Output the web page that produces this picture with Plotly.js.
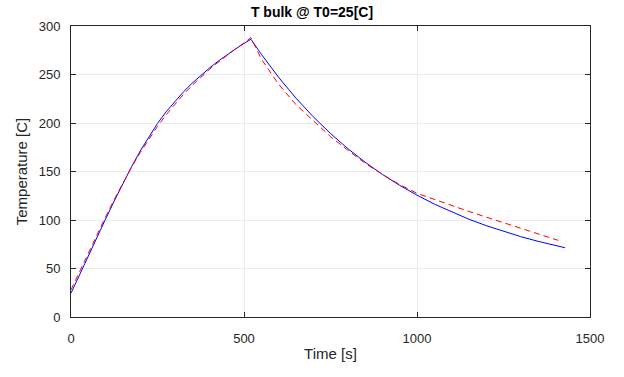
<!DOCTYPE html>
<html><head><meta charset="utf-8">
<script src="https://cdn.plot.ly/plotly-3.0.1.min.js"></script>
<style>html,body{margin:0;padding:0;background:#fff}#c{width:624px;height:377px}</style>
</head><body><div id="c"></div>
<script>
const blueTime = [0,25,50,75,100,125,150,175,200,225,250,275,300,325,350,375,400,425,450,475,500,520,550,600,650,700,750,800,850,900,950,1000,1050,1100,1150,1200,1250,1300,1350,1400,1428];
const blueTemp = [24.5,43.9,63.1,82.2,101.1,119.6,137.6,154.9,171.1,186.1,199.6,211.6,222.4,232.1,241,249.1,256.6,263.6,270.1,276.2,282,286.4,270.9,247.1,225.7,206.5,189.2,173.6,159.6,147,135.7,125.6,116.4,108.2,100.8,94.2,88.2,82.8,78,73.7,71.4];
const redTime = [0,25,50,75,100,125,150,175,200,225,250,275,300,325,350,375,400,425,450,475,500,520,550,600,650,700,750,800,850,900,950,1000,1050,1100,1150,1200,1250,1300,1350,1408];
const redTemp = [28,47.2,66.3,85,103.3,121.2,138.3,154.5,169.5,183.5,196.5,208.5,219.5,229.5,238.7,247.2,255.2,262.6,269.6,276.2,282.5,288,266,240,219,202,186,172,158.5,147,136.5,127.5,121,114.8,108.8,103,97.3,91.6,85.9,79];
const xTicks = [0,500,1000,1500];
const yTicks = [0,50,100,150,200,250,300];

const FONT = 'Liberation Sans, Arial, Helvetica, sans-serif';
const axisBase = {
  showline:true, linecolor:'#262626', linewidth:1, mirror:'ticks',
  ticks:'inside', ticklen:5, tickcolor:'#262626',
  showgrid:true, gridcolor:'#ebebeb', gridwidth:1, zeroline:false,
  tickfont:{family:FONT, size:13, color:'#262626'}
};
const data = [
  {x:blueTime, y:blueTemp, type:'scatter', mode:'lines', line:{color:'#0000ff', width:1}, showlegend:false},
  {x:redTime, y:redTemp, type:'scatter', mode:'lines', line:{color:'#ff0000', width:1, dash:'6px,4px'}, showlegend:false}
];
const layout = {
  width:624, height:377,
  margin:{l:71, r:34, t:26, b:60},
  paper_bgcolor:'#fff', plot_bgcolor:'#fff',
  title:{text:'<b>T bulk @ T0=25[C]</b>', x:0.5, xanchor:'center', y:0.968, yanchor:'middle',
    font:{family:FONT, size:14, color:'#000'}},
  xaxis:Object.assign({}, axisBase, {range:[0,1500], tickvals:xTicks, ticktext:xTicks.map(String),
    ticklabelstandoff:9,
    title:{text:'Time [s]', standoff:3, font:{family:FONT, size:15, color:'#262626'}}}),
  yaxis:Object.assign({}, axisBase, {range:[0,300], tickvals:yTicks, ticktext:yTicks.map(String),
    ticklabelstandoff:7,
    title:{text:'Temperature [C]', standoff:7, font:{family:FONT, size:15, color:'#262626'}}})
};
Plotly.newPlot('c', data, layout, {staticPlot:true, displayModeBar:false});
</script></body></html>
